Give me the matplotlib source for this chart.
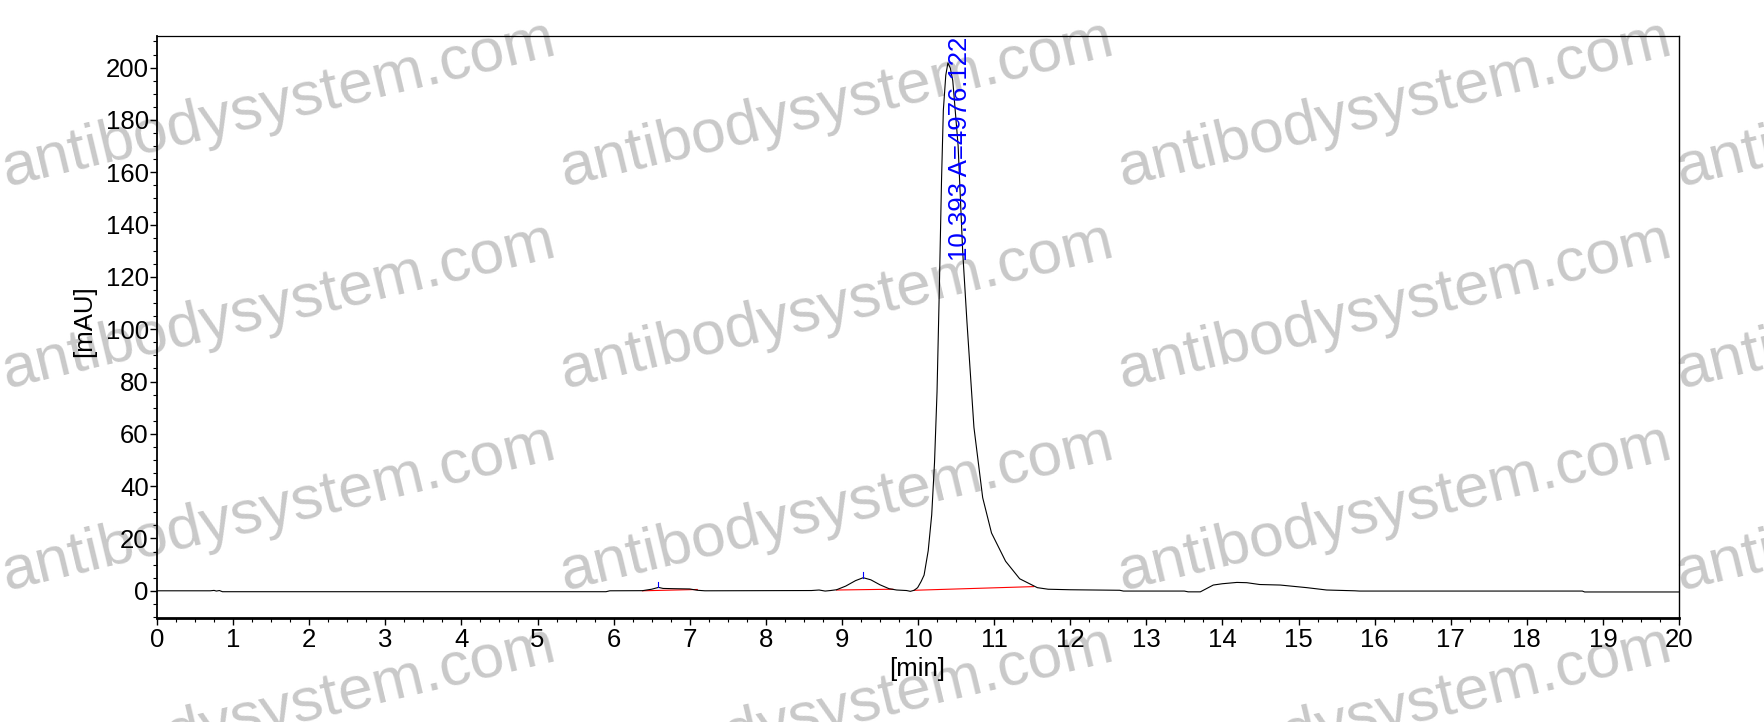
import matplotlib
matplotlib.use('Agg')
import matplotlib.pyplot as plt
from matplotlib.ticker import MultipleLocator

plt.rcParams['font.family'] = ['Liberation Sans', 'DejaVu Sans']

# chromatogram trace: time (min), signal (mAU)
time_min = [0.0, 0.70, 0.75, 0.78, 0.82, 0.86, 5.90, 5.95, 6.38, 6.50, 6.59,
            6.65, 6.80, 7.00, 7.10, 7.20, 8.60, 8.70, 8.78, 8.85, 8.93, 9.05,
            9.18, 9.28, 9.38, 9.50, 9.62, 9.72, 9.85, 9.90, 9.95, 9.995,
            10.04, 10.08, 10.134, 10.18, 10.217, 10.25, 10.281, 10.309,
            10.333, 10.365, 10.393, 10.425, 10.457, 10.527, 10.587, 10.643,
            10.735, 10.85, 10.966, 11.151, 11.336, 11.568, 11.71, 12.00,
            12.65, 12.70, 13.50, 13.55, 13.71, 13.88, 14.00, 14.19, 14.32,
            14.49, 14.76, 15.11, 15.37, 15.74, 15.80, 18.73, 18.76, 20.0]
signal_mau = [0.0, 0.0, 0.15, -0.1, 0.1, -0.35, -0.35, 0.0, 0.05, 0.6, 1.3,
              0.9, 0.8, 0.7, 0.2, 0.0, 0.1, 0.3, -0.1, 0.1, 0.4, 1.8,
              3.9, 5.0, 4.2, 2.3, 0.8, 0.3, 0.1, -0.2, 0.2, 1.2,
              3.5, 6.0, 15.3, 29.0, 49.0, 76.0, 116.3, 156.8,
              183.7, 197.1, 201.8, 199.8, 195.0, 170.2, 129.8, 102.9,
              62.5, 35.6, 22.1, 11.3, 4.6, 1.2, 0.6, 0.4,
              0.2, -0.1, -0.1, -0.4, -0.4, 2.2, 2.7, 3.2, 3.1,
              2.4, 2.2, 1.2, 0.3, 0.0, -0.1, -0.1, -0.45, -0.45]

# integration baselines (start t, start v, end t, end v)
base_t0 = [6.38, 8.93, 9.95]
base_v0 = [0.0, 0.3, 0.2]
base_t1 = [7.10, 9.67, 11.52]
base_v1 = [0.5, 0.6, 1.6]

# small peak apex markers
apex_t = [6.59, 9.28]
apex_v = [1.3, 5.0]

main_label = '10.393 A=4976.122'
main_label_t = 10.55
main_label_v = 126.0

W, H = 1765, 722
fig = plt.figure(figsize=(W / 100, H / 100), dpi=100)
ax = fig.add_axes([157 / W, 1 - 618 / H, (1679 - 157) / W, (618 - 36) / H])
ax.set_facecolor('none')

# watermark grid behind the chart
for i in range(5):
    for j in range(4):
        fig.text((6 + 558 * j) / W, 1 - (186 + 202 * i) / H, 'antibodysystem.com',
                 rotation=13.5, rotation_mode='anchor', ha='left', va='baseline',
                 fontsize=44.8, color='#c9c9c9', zorder=-1)

ax.plot(time_min, signal_mau, color='black', lw=0.8, zorder=3)
for t0, v0, t1, v1 in zip(base_t0, base_v0, base_t1, base_v1):
    ax.plot([t0, t1], [v0, v1], color='red', lw=0.8, zorder=2)
for t, v in zip(apex_t, apex_v):
    ax.plot([t, t], [v, v + 2.0], color='blue', lw=0.8, zorder=4)

ax.text(main_label_t, main_label_v, main_label, rotation=90, ha='center',
        va='bottom', color='blue', fontsize=18.5, zorder=5)

ax.set_xlim(0, 20)
ax.set_ylim(-10.4, 212.1)
ax.xaxis.set_major_locator(MultipleLocator(1))
ax.xaxis.set_minor_locator(MultipleLocator(0.25))
ax.yaxis.set_major_locator(MultipleLocator(20))
ax.yaxis.set_minor_locator(MultipleLocator(5))
ax.tick_params(which='major', direction='out', length=5, width=1, labelsize=18.5,
               pad=2)
ax.tick_params(which='minor', direction='out', length=3, width=0.8)
ax.tick_params(axis='y', pad=1)

ax.spines['bottom'].set_linewidth(2.0)
ax.spines['left'].set_linewidth(1.3)
ax.spines['top'].set_linewidth(0.9)
ax.spines['right'].set_linewidth(1.0)

fig.text(917 / W, 1 - 669 / H, '[min]', ha='center', va='center', fontsize=18.5)
fig.text(84 / W, 1 - 321 / H, '[mAU]', rotation=90, ha='center', va='center',
         fontsize=18.5)

fig.savefig('out.png', dpi=100)
